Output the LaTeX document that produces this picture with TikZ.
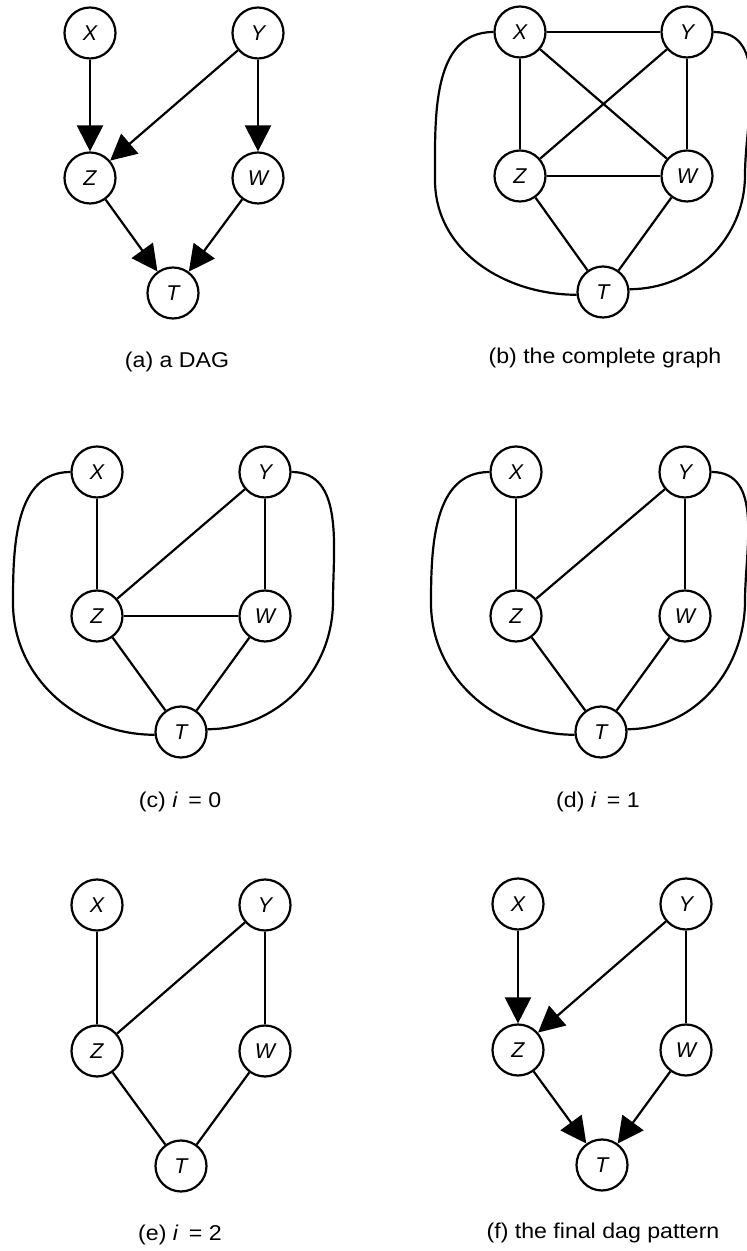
\documentclass[tikz,border=0pt]{standalone}
\usepackage{fontspec}
\usepackage{graphicx}
\setmainfont{Liberation Sans}
\usetikzlibrary{arrows.meta}
\newcommand{\captxt}[1]{\scalebox{1.08}[1]{#1}}
\begin{document}
\begin{tikzpicture}[x=1bp,y=1bp,
  vnode/.style={circle,draw,line width=2.2bp,minimum size=51bp,inner sep=0pt,fill=white,
    font=\fontsize{21.5}{21.5}\selectfont\itshape},
  edge/.style={line width=2.2bp},
  arr/.style={edge,-{Triangle[length=26bp,width=26bp]}},
  captext/.style={font=\fontsize{21.5}{24}\selectfont,inner sep=0pt}]
\useasboundingbox (0,0) rectangle (747,1251);

% ---------- (a) ----------
\node[vnode] (aX) at (90,1218) {X};
\node[vnode] (aY) at (258,1218) {Y};
\node[vnode] (aZ) at (90,1073) {Z};
\node[vnode] (aW) at (258,1073) {W};
\node[vnode] (aT) at (173,958) {T};
\draw[arr] (aX) -- (aZ);
\draw[arr] (aY) -- (aZ);
\draw[arr] (aY) -- (aW);
\draw[arr] (aZ) -- (aT);
\draw[arr] (aW) -- (aT);
\node[captext] (capa) at (177,889) {\captxt{(a) a DAG}};

% ---------- (b) ----------
\node[vnode] (bX) at (520,1219) {X};
\node[vnode] (bY) at (687,1219) {Y};
\node[vnode] (bZ) at (520,1075) {Z};
\node[vnode] (bW) at (687,1075) {W};
\node[vnode] (bT) at (603,959) {T};
\coordinate (bL) at (435,1071);
\coordinate (bR) at (745,1076);
\draw[edge] (bX) -- (bY);
\draw[edge] (bX) -- (bZ);
\draw[edge] (bX) -- (bW);
\draw[edge] (bY) -- (bZ);
\draw[edge] (bY) -- (bW);
\draw[edge] (bZ) -- (bW);
\draw[edge] (bZ) -- (bT);
\draw[edge] (bW) -- (bT);
\draw[edge] (bX.west) to[out=180,in=90] (bL) to[out=-90,in=180] (bT.186);
\draw[edge] (bY.east) to[out=0,in=90] (bR) to[out=-90,in=0] (bT.6);
\node[captext] (capb) at (605,893) {\captxt{(b) the complete graph}};

% ---------- (c) ----------
\node[vnode] (cX) at (97,779) {X};
\node[vnode] (cY) at (265,779) {Y};
\node[vnode] (cZ) at (97,635) {Z};
\node[vnode] (cW) at (265,635) {W};
\node[vnode] (cT) at (181,519) {T};
\coordinate (cL) at (13,648);
\coordinate (cR) at (333,650);
\draw[edge] (cX) -- (cZ);
\draw[edge] (cY) -- (cZ);
\draw[edge] (cY) -- (cW);
\draw[edge] (cZ) -- (cW);
\draw[edge] (cZ) -- (cT);
\draw[edge] (cW) -- (cT);
\draw[edge] (cX.west) to[out=180,in=90] (cL) to[out=-90,in=180] (cT.186);
\draw[edge] (cY.east) to[out=0,in=90] (cR) to[out=-90,in=0] (cT.6);
\node[captext] (capc) at (180,449) {\captxt{(c) \textit{i}\hspace{0.45em}= 0}};

% ---------- (d) ----------
\node[vnode] (dX) at (516,779) {X};
\node[vnode] (dY) at (685,779) {Y};
\node[vnode] (dZ) at (516,635) {Z};
\node[vnode] (dW) at (685,635) {W};
\node[vnode] (dT) at (601,519) {T};
\coordinate (dL) at (431,648);
\coordinate (dR) at (745,650);
\draw[edge] (dX) -- (dZ);
\draw[edge] (dY) -- (dZ);
\draw[edge] (dY) -- (dW);
\draw[edge] (dZ) -- (dT);
\draw[edge] (dW) -- (dT);
\draw[edge] (dX.west) to[out=180,in=90] (dL) to[out=-90,in=180] (dT.186);
\draw[edge] (dY.east) to[out=0,in=90] (dR) to[out=-90,in=0] (dT.6);
\node[captext] (capd) at (598,449) {\captxt{(d) \textit{i}\hspace{0.45em}= 1}};

% ---------- (e) ----------
\node[vnode] (eX) at (97,346) {X};
\node[vnode] (eY) at (265,346) {Y};
\node[vnode] (eZ) at (97,200) {Z};
\node[vnode] (eW) at (265,200) {W};
\node[vnode] (eT) at (181,85) {T};
\draw[edge] (eX) -- (eZ);
\draw[edge] (eY) -- (eZ);
\draw[edge] (eY) -- (eW);
\draw[edge] (eZ) -- (eT);
\draw[edge] (eW) -- (eT);
\node[captext] (cape) at (180,16) {\captxt{(e) \textit{i}\hspace{0.45em}= 2}};

% ---------- (f) ----------
\node[vnode] (fX) at (518,347) {X};
\node[vnode] (fY) at (686,347) {Y};
\node[vnode] (fZ) at (518,201) {Z};
\node[vnode] (fW) at (686,201) {W};
\node[vnode] (fT) at (602,86) {T};
\draw[arr] (fX) -- (fZ);
\draw[arr] (fY) -- (fZ);
\draw[edge] (fY) -- (fW);
\draw[arr] (fZ) -- (fT);
\draw[arr] (fW) -- (fT);
\node[captext] (capf) at (603,18) {\captxt{(f) the final dag pattern}};
\end{tikzpicture}
\end{document}
